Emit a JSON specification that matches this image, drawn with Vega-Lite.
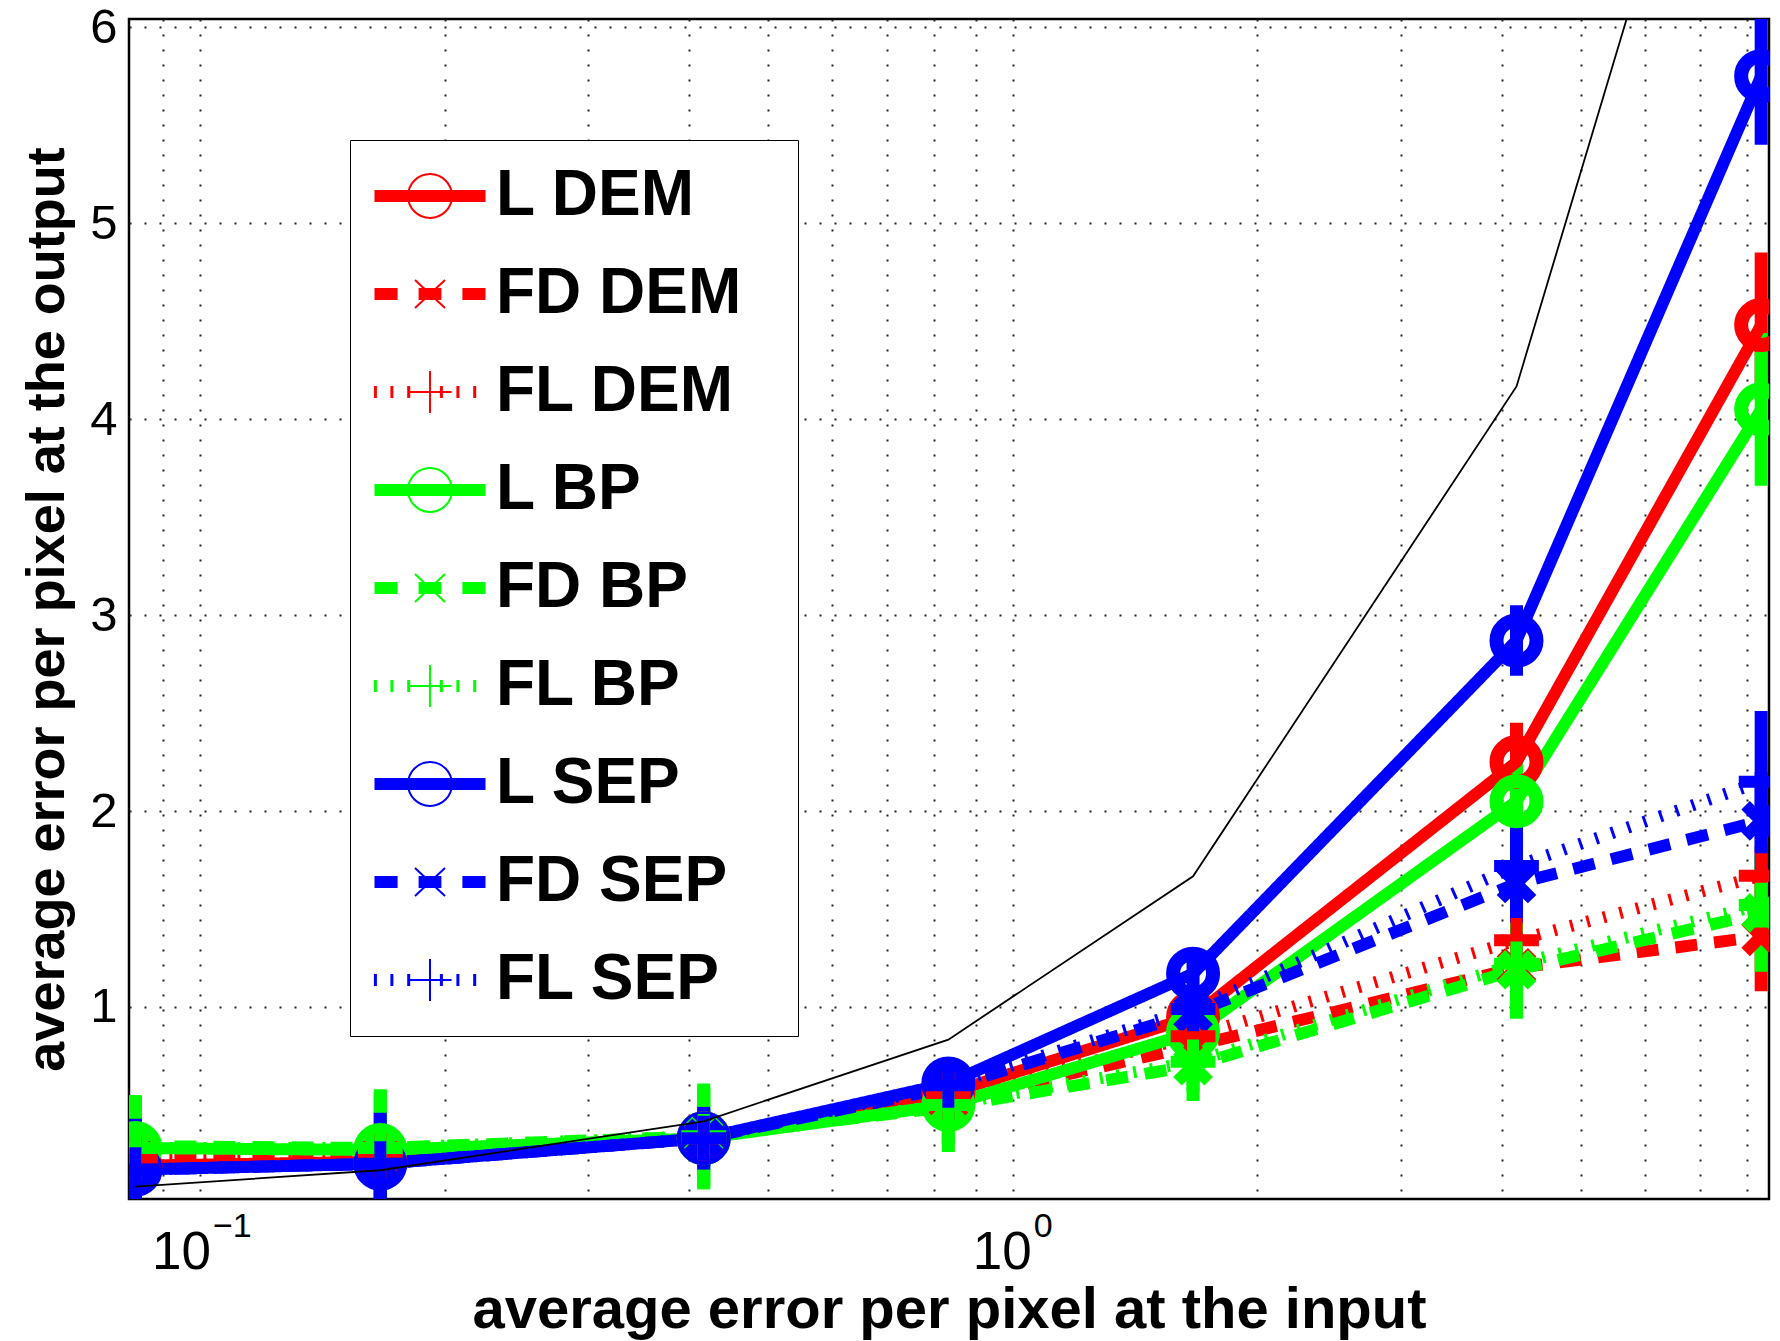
{
  "$schema": "https://vega.github.io/schema/vega-lite/v6.json",
  "width": 1640,
  "height": 1180,
  "autosize": {"type": "none"},
  "padding": {"left": 129, "top": 19, "right": 11, "bottom": 142},
  "background": "white",
  "config": {"view": {"stroke": "black", "strokeWidth": 2.5}, "font": "Liberation Sans"},
  "datasets": {
    "main": [
      {"series": "L DEM", "method": "L", "x": 0.0833, "y": 0.19, "lo": 0.07, "hi": 0.31},
      {"series": "L DEM", "method": "L", "x": 0.1667, "y": 0.21, "lo": 0.09, "hi": 0.33},
      {"series": "L DEM", "method": "L", "x": 0.4167, "y": 0.33, "lo": 0.21, "hi": 0.45},
      {"series": "L DEM", "method": "L", "x": 0.8333, "y": 0.56, "lo": 0.46, "hi": 0.66},
      {"series": "L DEM", "method": "L", "x": 1.6667, "y": 0.95, "lo": 0.83, "hi": 1.07},
      {"series": "L DEM", "method": "L", "x": 4.1667, "y": 2.25, "lo": 2.05, "hi": 2.45},
      {"series": "L DEM", "method": "L", "x": 8.3333, "y": 4.48, "lo": 4.11, "hi": 4.85},
      {"series": "FD DEM", "method": "FD", "x": 0.0833, "y": 0.23, "lo": 0.13, "hi": 0.33},
      {"series": "FD DEM", "method": "FD", "x": 0.1667, "y": 0.24, "lo": 0.14, "hi": 0.34},
      {"series": "FD DEM", "method": "FD", "x": 0.4167, "y": 0.33, "lo": 0.23, "hi": 0.43},
      {"series": "FD DEM", "method": "FD", "x": 0.8333, "y": 0.52, "lo": 0.42, "hi": 0.62},
      {"series": "FD DEM", "method": "FD", "x": 1.6667, "y": 0.80, "lo": 0.70, "hi": 0.90},
      {"series": "FD DEM", "method": "FD", "x": 4.1667, "y": 1.20, "lo": 1.05, "hi": 1.35},
      {"series": "FD DEM", "method": "FD", "x": 8.3333, "y": 1.36, "lo": 1.08, "hi": 1.64},
      {"series": "FL DEM", "method": "FL", "x": 0.0833, "y": 0.23, "lo": 0.13, "hi": 0.33},
      {"series": "FL DEM", "method": "FL", "x": 0.1667, "y": 0.24, "lo": 0.14, "hi": 0.34},
      {"series": "FL DEM", "method": "FL", "x": 0.4167, "y": 0.33, "lo": 0.23, "hi": 0.43},
      {"series": "FL DEM", "method": "FL", "x": 0.8333, "y": 0.54, "lo": 0.44, "hi": 0.64},
      {"series": "FL DEM", "method": "FL", "x": 1.6667, "y": 0.85, "lo": 0.75, "hi": 0.95},
      {"series": "FL DEM", "method": "FL", "x": 4.1667, "y": 1.34, "lo": 1.22, "hi": 1.46},
      {"series": "FL DEM", "method": "FL", "x": 8.3333, "y": 1.67, "lo": 1.52, "hi": 1.82},
      {"series": "L BP", "method": "L", "x": 0.0833, "y": 0.28, "lo": 0.01, "hi": 0.55},
      {"series": "L BP", "method": "L", "x": 0.1667, "y": 0.27, "lo": -0.03, "hi": 0.57},
      {"series": "L BP", "method": "L", "x": 0.4167, "y": 0.33, "lo": 0.07, "hi": 0.59},
      {"series": "L BP", "method": "L", "x": 0.8333, "y": 0.50, "lo": 0.30, "hi": 0.70},
      {"series": "L BP", "method": "L", "x": 1.6667, "y": 0.87, "lo": 0.67, "hi": 1.07},
      {"series": "L BP", "method": "L", "x": 4.1667, "y": 2.05, "lo": 1.85, "hi": 2.25},
      {"series": "L BP", "method": "L", "x": 8.3333, "y": 4.05, "lo": 3.66, "hi": 4.44},
      {"series": "FD BP", "method": "FD", "x": 0.0833, "y": 0.29, "lo": 0.03, "hi": 0.55},
      {"series": "FD BP", "method": "FD", "x": 0.1667, "y": 0.28, "lo": -0.02, "hi": 0.58},
      {"series": "FD BP", "method": "FD", "x": 0.4167, "y": 0.34, "lo": 0.07, "hi": 0.61},
      {"series": "FD BP", "method": "FD", "x": 0.8333, "y": 0.49, "lo": 0.26, "hi": 0.72},
      {"series": "FD BP", "method": "FD", "x": 1.6667, "y": 0.70, "lo": 0.52, "hi": 0.88},
      {"series": "FD BP", "method": "FD", "x": 4.1667, "y": 1.19, "lo": 0.94, "hi": 1.44},
      {"series": "FD BP", "method": "FD", "x": 8.3333, "y": 1.48, "lo": 1.18, "hi": 1.78},
      {"series": "FL BP", "method": "FL", "x": 0.0833, "y": 0.28, "lo": 0.03, "hi": 0.53},
      {"series": "FL BP", "method": "FL", "x": 0.1667, "y": 0.28, "lo": 0.00, "hi": 0.56},
      {"series": "FL BP", "method": "FL", "x": 0.4167, "y": 0.34, "lo": 0.09, "hi": 0.59},
      {"series": "FL BP", "method": "FL", "x": 0.8333, "y": 0.50, "lo": 0.30, "hi": 0.70},
      {"series": "FL BP", "method": "FL", "x": 1.6667, "y": 0.72, "lo": 0.57, "hi": 0.87},
      {"series": "FL BP", "method": "FL", "x": 4.1667, "y": 1.22, "lo": 1.00, "hi": 1.44},
      {"series": "FL BP", "method": "FL", "x": 8.3333, "y": 1.52, "lo": 1.27, "hi": 1.77},
      {"series": "L SEP", "method": "L", "x": 0.0833, "y": 0.17, "lo": -0.09, "hi": 0.43},
      {"series": "L SEP", "method": "L", "x": 0.1667, "y": 0.20, "lo": -0.06, "hi": 0.46},
      {"series": "L SEP", "method": "L", "x": 0.4167, "y": 0.33, "lo": 0.17, "hi": 0.49},
      {"series": "L SEP", "method": "L", "x": 0.8333, "y": 0.61, "lo": 0.51, "hi": 0.71},
      {"series": "L SEP", "method": "L", "x": 1.6667, "y": 1.17, "lo": 1.07, "hi": 1.27},
      {"series": "L SEP", "method": "L", "x": 4.1667, "y": 2.87, "lo": 2.69, "hi": 3.05},
      {"series": "L SEP", "method": "L", "x": 8.3333, "y": 5.75, "lo": 5.40, "hi": 6.10},
      {"series": "FD SEP", "method": "FD", "x": 0.0833, "y": 0.17, "lo": -0.03, "hi": 0.37},
      {"series": "FD SEP", "method": "FD", "x": 0.1667, "y": 0.20, "lo": 0.00, "hi": 0.40},
      {"series": "FD SEP", "method": "FD", "x": 0.4167, "y": 0.33, "lo": 0.19, "hi": 0.47},
      {"series": "FD SEP", "method": "FD", "x": 0.8333, "y": 0.59, "lo": 0.49, "hi": 0.69},
      {"series": "FD SEP", "method": "FD", "x": 1.6667, "y": 0.97, "lo": 0.85, "hi": 1.09},
      {"series": "FD SEP", "method": "FD", "x": 4.1667, "y": 1.63, "lo": 1.43, "hi": 1.83},
      {"series": "FD SEP", "method": "FD", "x": 8.3333, "y": 1.95, "lo": 1.70, "hi": 2.20},
      {"series": "FL SEP", "method": "FL", "x": 0.0833, "y": 0.17, "lo": -0.03, "hi": 0.37},
      {"series": "FL SEP", "method": "FL", "x": 0.1667, "y": 0.20, "lo": 0.00, "hi": 0.40},
      {"series": "FL SEP", "method": "FL", "x": 0.4167, "y": 0.33, "lo": 0.19, "hi": 0.47},
      {"series": "FL SEP", "method": "FL", "x": 0.8333, "y": 0.60, "lo": 0.50, "hi": 0.70},
      {"series": "FL SEP", "method": "FL", "x": 1.6667, "y": 0.99, "lo": 0.87, "hi": 1.11},
      {"series": "FL SEP", "method": "FL", "x": 4.1667, "y": 1.72, "lo": 1.47, "hi": 1.97},
      {"series": "FL SEP", "method": "FL", "x": 8.3333, "y": 2.15, "lo": 1.79, "hi": 2.51}
    ],
    "ref": [
      {"x": 0.0833, "y": 0.0833},
      {"x": 0.1667, "y": 0.1667},
      {"x": 0.4167, "y": 0.4167},
      {"x": 0.8333, "y": 0.8333},
      {"x": 1.6667, "y": 1.6667},
      {"x": 4.1667, "y": 4.1667},
      {"x": 8.3333, "y": 8.3333}
    ],
    "exps": [
      {"x": 0.1, "exp": "−1"},
      {"x": 1, "exp": "0"}
    ]
  },
  "layer": [
    {
      "data": {"name": "main"},
      "mark": {"type": "point", "filled": true, "opacity": 0},
      "encoding": {
        "shape": {
          "field": "series", "type": "nominal",
          "scale": {
            "domain": ["L DEM", "FD DEM", "FL DEM", "L BP", "FD BP", "FL BP", "L SEP", "FD SEP", "FL SEP"],
            "range": [
              "M-1.85,-0.1667H1.85M-1.85,-0.1H1.85M-1.85,-0.0333H1.85M-1.85,0.0333H1.85M-1.85,0.1H1.85M-1.85,0.1667H1.85M0.733,0A0.733,0.733 0 1,1 -0.733,0A0.733,0.733 0 1,1 0.733,0ZM0.733,0A0.733,0.733 0 1,0 -0.733,0A0.733,0.733 0 1,0 0.733,0Z",
              "M-1.85,-0.1667H-1.08M-0.38,-0.1667H0.38M1.08,-0.1667H1.85M-1.85,-0.1H-1.08M-0.38,-0.1H0.38M1.08,-0.1H1.85M-1.85,-0.0333H-1.08M-0.38,-0.0333H0.38M1.08,-0.0333H1.85M-1.85,0.0333H-1.08M-0.38,0.0333H0.38M1.08,0.0333H1.85M-1.85,0.1H-1.08M-0.38,0.1H0.38M1.08,0.1H1.85M-1.85,0.1667H-1.08M-0.38,0.1667H0.38M1.08,0.1667H1.85M-0.5,-0.47L0.5,0.47M-0.5,0.47L0.5,-0.47",
              "M-1.8367,-0.2V0.2M-1.8033,-0.2V0.2M-1.2867,-0.2V0.2M-1.2533,-0.2V0.2M-0.7267,-0.2V0.2M-0.6933,-0.2V0.2M0.3633,-0.2V0.2M0.3967,-0.2V0.2M0.9133,-0.2V0.2M0.9467,-0.2V0.2M1.4733,-0.2V0.2M1.5067,-0.2V0.2M-0.72,0H0.72M0,-0.7V0.7",
              "M-1.85,-0.1667H1.85M-1.85,-0.1H1.85M-1.85,-0.0333H1.85M-1.85,0.0333H1.85M-1.85,0.1H1.85M-1.85,0.1667H1.85M0.733,0A0.733,0.733 0 1,1 -0.733,0A0.733,0.733 0 1,1 0.733,0ZM0.733,0A0.733,0.733 0 1,0 -0.733,0A0.733,0.733 0 1,0 0.733,0Z",
              "M-1.85,-0.1667H-1.08M-0.38,-0.1667H0.38M1.08,-0.1667H1.85M-1.85,-0.1H-1.08M-0.38,-0.1H0.38M1.08,-0.1H1.85M-1.85,-0.0333H-1.08M-0.38,-0.0333H0.38M1.08,-0.0333H1.85M-1.85,0.0333H-1.08M-0.38,0.0333H0.38M1.08,0.0333H1.85M-1.85,0.1H-1.08M-0.38,0.1H0.38M1.08,0.1H1.85M-1.85,0.1667H-1.08M-0.38,0.1667H0.38M1.08,0.1667H1.85M-0.5,-0.47L0.5,0.47M-0.5,0.47L0.5,-0.47",
              "M-1.8367,-0.2V0.2M-1.8033,-0.2V0.2M-1.2867,-0.2V0.2M-1.2533,-0.2V0.2M-0.7267,-0.2V0.2M-0.6933,-0.2V0.2M0.3633,-0.2V0.2M0.3967,-0.2V0.2M0.9133,-0.2V0.2M0.9467,-0.2V0.2M1.4733,-0.2V0.2M1.5067,-0.2V0.2M-0.72,0H0.72M0,-0.7V0.7",
              "M-1.85,-0.1667H1.85M-1.85,-0.1H1.85M-1.85,-0.0333H1.85M-1.85,0.0333H1.85M-1.85,0.1H1.85M-1.85,0.1667H1.85M0.733,0A0.733,0.733 0 1,1 -0.733,0A0.733,0.733 0 1,1 0.733,0ZM0.733,0A0.733,0.733 0 1,0 -0.733,0A0.733,0.733 0 1,0 0.733,0Z",
              "M-1.85,-0.1667H-1.08M-0.38,-0.1667H0.38M1.08,-0.1667H1.85M-1.85,-0.1H-1.08M-0.38,-0.1H0.38M1.08,-0.1H1.85M-1.85,-0.0333H-1.08M-0.38,-0.0333H0.38M1.08,-0.0333H1.85M-1.85,0.0333H-1.08M-0.38,0.0333H0.38M1.08,0.0333H1.85M-1.85,0.1H-1.08M-0.38,0.1H0.38M1.08,0.1H1.85M-1.85,0.1667H-1.08M-0.38,0.1667H0.38M1.08,0.1667H1.85M-0.5,-0.47L0.5,0.47M-0.5,0.47L0.5,-0.47",
              "M-1.8367,-0.2V0.2M-1.8033,-0.2V0.2M-1.2867,-0.2V0.2M-1.2533,-0.2V0.2M-0.7267,-0.2V0.2M-0.6933,-0.2V0.2M0.3633,-0.2V0.2M0.3967,-0.2V0.2M0.9133,-0.2V0.2M0.9467,-0.2V0.2M1.4733,-0.2V0.2M1.5067,-0.2V0.2M-0.72,0H0.72M0,-0.7V0.7"
            ]
          },
          "legend": {
            "orient": "none", "legendX": 221, "legendY": 121,
            "title": ".", "titleOrient": "right", "titleColor": "white", "titleFontSize": 20, "titlePadding": 27,
            "padding": 24, "symbolOffset": 24, "labelOffset": 34, "rowPadding": 34,
            "labelFont": "Liberation Sans", "labelFontSize": 64, "labelFontWeight": "bold", "labelColor": "black",
            "labelLimit": 800,
            "strokeColor": "black", "fillColor": "white",
            "symbolSize": 3600, "symbolStrokeWidth": 2, "symbolOpacity": 1,
            "encode": {
              "legend": {"update": {"strokeWidth": {"value": 2.5}}},
              "symbols": {"update": {
                "stroke": {"condition": [{"test": "indexof(datum.value, 'DEM') >= 0", "value": "#ff0000"}, {"test": "indexof(datum.value, 'BP') >= 0", "value": "#00ff00"}], "value": "#0000ff"},
                "strokeWidth": {"value": 2},
                "opacity": {"value": 1}
              }}
            }
          }
        }
      }
    },
    {
      "data": {"name": "main"},
      "mark": {"type": "rule", "strokeWidth": 13, "clip": true, "strokeCap": "butt"},
      "encoding": {
        "x": {
          "field": "x", "type": "quantitative",
          "scale": {"type": "log", "domain": [0.0818, 8.52], "nice": false},
          "axis": {
            "orient": "bottom",
            "values": [0.09, 0.1, 0.2, 0.3, 0.4, 0.5, 0.6, 0.7, 0.8, 0.9, 1, 2, 3, 4, 5, 6, 7, 8],
            "labelExpr": "(datum.value == 0.1 || datum.value == 1) ? '10' : ''",
            "labelFont": "Liberation Sans", "labelFontSize": 53, "labelColor": "black",
            "labelPadding": 27,
            "labelOffset": {"condition": {"test": "datum.value == 1", "value": -11}, "value": -19},
            "labelFlush": false, "labelOverlap": false, "labelBound": false,
            "grid": true, "gridDash": [2, 13], "gridColor": "#222222", "gridWidth": 2, "gridOpacity": 1,
            "domain": false, "ticks": true, "tickSize": 0, "tickColor": "black", "tickWidth": 2,
            "encode": {
              "ticks": {"update": {"y2": {"condition": {"test": "datum.value == 0.1 || datum.value == 1", "value": -16}, "value": -7}}}
            },
            "title": "average error per pixel at the input",
            "titleFont": "Liberation Sans", "titleFontSize": 58, "titleFontWeight": "bold", "titleColor": "black",
            "titlePadding": 2
          }
        },
        "y": {
          "field": "lo", "type": "quantitative",
          "scale": {"domain": [0.02, 6.042], "nice": false, "zero": false},
          "axis": {
            "orient": "left",
            "values": [1, 2, 3, 4, 5, 6],
            "labelFont": "Liberation Sans", "labelFontSize": 49, "labelColor": "black", "labelPadding": 12,
            "labelFlush": false, "labelOverlap": false, "labelBound": false,
            "grid": true, "gridDash": [2, 13], "gridColor": "#222222", "gridWidth": 2, "gridOpacity": 1,
            "domain": false, "ticks": true, "tickSize": 0, "tickColor": "black", "tickWidth": 2,
            "encode": {"ticks": {"update": {"x2": {"value": 18}}}},
            "title": "average error per pixel at the output",
            "titleFont": "Liberation Sans", "titleFontSize": 54, "titleFontWeight": "bold", "titleColor": "black",
            "titlePadding": 15
          }
        },
        "y2": {"field": "hi"},
        "color": {
          "field": "series", "type": "nominal",
          "scale": {
            "domain": ["L DEM", "FD DEM", "FL DEM", "L BP", "FD BP", "FL BP", "L SEP", "FD SEP", "FL SEP"],
            "range": ["#ff0000", "#ff0000", "#ff0000", "#00ff00", "#00ff00", "#00ff00", "#0000ff", "#0000ff", "#0000ff"]
          },
          "legend": null
        }
      }
    },
    {
      "data": {"name": "main"},
      "mark": {"type": "line", "strokeWidth": 12, "clip": true, "strokeCap": "butt"},
      "encoding": {
        "x": {"field": "x", "type": "quantitative", "axis": null},
        "y": {"field": "y", "type": "quantitative", "axis": null},
        "color": {"field": "series", "type": "nominal", "legend": null},
        "strokeDash": {
          "field": "method", "type": "nominal",
          "scale": {"domain": ["L", "FD", "FL"], "range": [[1, 0], [22, 17], [3, 14]]},
          "legend": null
        }
      }
    },
    {
      "data": {"name": "main"},
      "transform": [{"filter": "datum.method == 'L'"}],
      "mark": {"type": "point", "filled": false, "strokeWidth": 14, "size": 1600, "opacity": 1, "clip": true,
               "shape": "M1,0A1,1 0 1,1 -1,0A1,1 0 1,1 1,0Z"},
      "encoding": {
        "x": {"field": "x", "type": "quantitative", "axis": null},
        "y": {"field": "y", "type": "quantitative", "axis": null},
        "color": {"field": "series", "type": "nominal", "legend": null}
      }
    },
    {
      "data": {"name": "main"},
      "transform": [{"filter": "datum.method == 'FD'"}],
      "mark": {"type": "point", "filled": false, "strokeWidth": 12, "size": 1600, "opacity": 1, "clip": true,
               "shape": "M-0.78,-0.78L0.78,0.78M-0.78,0.78L0.78,-0.78"},
      "encoding": {
        "x": {"field": "x", "type": "quantitative", "axis": null},
        "y": {"field": "y", "type": "quantitative", "axis": null},
        "color": {"field": "series", "type": "nominal", "legend": null}
      }
    },
    {
      "data": {"name": "main"},
      "transform": [{"filter": "datum.method == 'FL'"}],
      "mark": {"type": "point", "filled": false, "strokeWidth": 12, "size": 1600, "opacity": 1, "clip": true,
               "shape": "M-1.12,0L1.12,0M0,-1.12L0,1.12"},
      "encoding": {
        "x": {"field": "x", "type": "quantitative", "axis": null},
        "y": {"field": "y", "type": "quantitative", "axis": null},
        "color": {"field": "series", "type": "nominal", "legend": null}
      }
    },
    {
      "data": {"name": "exps"},
      "transform": [{"filter": "datum.x < 0.5"}],
      "mark": {"type": "text", "font": "Liberation Sans", "fontSize": 34, "color": "black", "align": "left", "baseline": "middle", "dx": 13, "dy": 28, "clip": false},
      "encoding": {
        "x": {"field": "x", "type": "quantitative", "axis": null},
        "y": {"datum": 0.02, "type": "quantitative", "axis": null},
        "text": {"field": "exp", "type": "nominal"}
      }
    },
    {
      "data": {"name": "exps"},
      "transform": [{"filter": "datum.x > 0.5"}],
      "mark": {"type": "text", "font": "Liberation Sans", "fontSize": 34, "color": "black", "align": "left", "baseline": "middle", "dx": 21, "dy": 28, "clip": false},
      "encoding": {
        "x": {"field": "x", "type": "quantitative", "axis": null},
        "y": {"datum": 0.02, "type": "quantitative", "axis": null},
        "text": {"field": "exp", "type": "nominal"}
      }
    },
    {
      "data": {"name": "ref"},
      "mark": {"type": "line", "color": "black", "strokeWidth": 1.8, "clip": true},
      "encoding": {
        "x": {
          "field": "x", "type": "quantitative",
          "axis": {
            "orient": "top",
            "values": [0.09, 0.1, 0.2, 0.3, 0.4, 0.5, 0.6, 0.7, 0.8, 0.9, 1, 2, 3, 4, 5, 6, 7, 8],
            "labels": false, "title": null, "grid": false, "domain": false,
            "ticks": true, "tickSize": 0, "tickColor": "black", "tickWidth": 2,
            "encode": {"ticks": {"update": {"y2": {"condition": {"test": "datum.value == 0.1 || datum.value == 1", "value": 16}, "value": 7}}}}
          }
        },
        "y": {
          "field": "y", "type": "quantitative",
          "axis": {
            "orient": "right",
            "values": [1, 2, 3, 4, 5, 6],
            "labels": false, "title": null, "grid": false, "domain": false,
            "ticks": true, "tickSize": 0, "tickColor": "black", "tickWidth": 2,
            "encode": {"ticks": {"update": {"x2": {"value": -18}}}}
          }
        }
      }
    }
  ],
  "resolve": {"axis": {"x": "independent", "y": "independent"}}
}
